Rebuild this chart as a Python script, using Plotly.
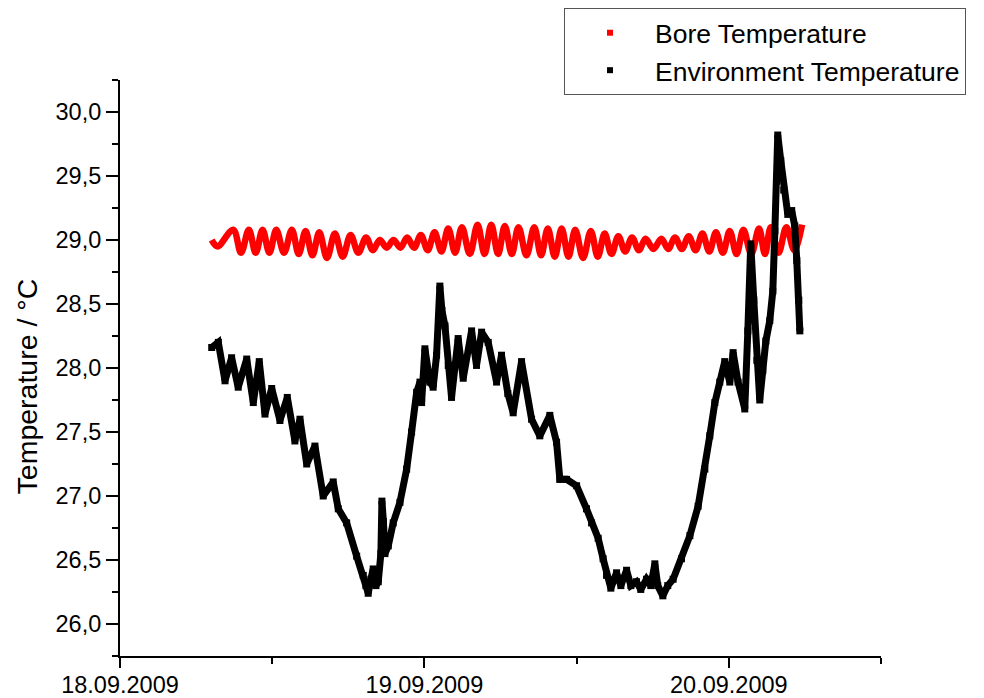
import pandas as pd
import plotly.graph_objects as go

# hours after 18.09.2009 00:00
bore_hours = [7.23, 7.69,
              8.92, 9.54, 10.16, 10.70, 11.24, 11.78, 12.32, 12.93, 13.55, 14.09,
              14.63, 15.17, 15.71, 16.32, 16.94, 17.56, 18.18, 18.79, 19.40, 19.94,
              20.48, 21.03, 21.56, 22.11, 22.64, 23.19, 23.72, 24.26, 24.80, 25.34,
              25.88, 26.42, 26.96, 27.58, 28.19, 28.74, 29.27, 29.81, 30.34, 30.89,
              31.42, 32.05, 32.66, 33.20, 33.73, 34.28, 34.82, 35.36, 35.89, 36.51,
              37.12, 37.67, 38.21, 38.75, 39.29, 39.83, 40.37, 40.91, 41.44, 42.06,
              42.68, 43.22, 43.76, 44.30, 44.84, 45.38, 45.92, 46.46, 46.99, 47.53,
              48.07, 48.61, 49.15, 49.77, 50.38, 50.85, 51.31, 51.92, 52.54, 53.16,
              53.78]
bore_temp = [29.00, 28.95,
             29.08, 28.90, 29.08, 28.90, 29.08, 28.90, 29.08, 28.90, 29.08, 28.89,
             29.07, 28.88, 29.06, 28.86, 29.05, 28.87, 29.04, 28.90, 29.02, 28.92,
             29.00, 28.94, 29.00, 28.94, 29.02, 28.94, 29.04, 28.92, 29.06, 28.91,
             29.09, 28.90, 29.10, 28.89, 29.12, 28.89, 29.12, 28.89, 29.11, 28.89,
             29.10, 28.88, 29.10, 28.88, 29.09, 28.87, 29.09, 28.87, 29.08, 28.86,
             29.07, 28.87, 29.05, 28.89, 29.03, 28.91, 29.02, 28.92, 29.01, 28.93,
             29.01, 28.93, 29.02, 28.93, 29.03, 28.92, 29.05, 28.91, 29.06, 28.90,
             29.07, 28.89, 29.08, 28.89, 29.09, 28.89, 29.10, 28.90, 29.10, 28.92,
             29.12]

env_hours = [7.23, 7.75, 8.28, 8.80, 9.32, 9.99, 10.51, 10.98, 11.43, 11.96,
             12.61, 13.19, 13.79, 14.19, 14.72, 15.37, 16.02, 16.81, 17.21, 17.87,
             18.66, 19.18, 19.39, 19.57, 19.78, 19.96, 20.18, 20.36, 20.57, 20.65,
             20.77, 20.89, 21.15, 21.54, 22.07, 22.60, 22.99, 23.39, 23.65, 23.78,
             24.04, 24.43, 24.69, 24.96, 25.22, 25.38, 25.62, 25.88, 26.14, 26.66,
             27.06, 27.72, 28.11, 28.51, 29.03, 29.69, 30.08, 30.58, 31.00, 31.66,
             32.45, 33.10, 33.89, 34.42, 34.68, 35.21, 36.00, 36.78, 37.18, 37.70,
             38.09, 38.36, 38.70, 39.15, 39.49, 39.94, 40.28, 40.72, 41.06, 41.51,
             41.85, 42.17, 42.40, 42.80, 43.19, 43.61, 44.27, 44.93, 45.58, 46.11,
             46.50, 46.90, 47.29, 47.68, 48.08, 48.34, 48.73, 49.26, 49.50, 49.73,
             49.97, 50.21, 50.44, 50.68, 50.92, 51.23, 51.47, 51.63, 51.78, 51.86,
             52.10, 52.33, 52.65, 52.96, 53.20, 53.36, 53.52, 53.60]
env_temp = [28.16, 28.20, 27.90, 28.08, 27.85, 28.07, 27.73, 28.05, 27.64, 27.84,
            27.59, 27.77, 27.43, 27.60, 27.25, 27.39, 27.00, 27.11, 26.90, 26.79,
            26.53, 26.38, 26.30, 26.24, 26.35, 26.43, 26.30, 26.33, 26.55, 26.96,
            26.80, 26.55, 26.61, 26.79, 26.95, 27.21, 27.50, 27.81, 27.89, 27.73,
            28.15, 27.89, 27.85, 28.10, 28.64, 28.45, 28.33, 28.02, 27.77, 28.23,
            27.92, 28.29, 28.02, 28.28, 28.20, 27.89, 28.10, 27.80, 27.65, 28.05,
            27.60, 27.47, 27.63, 27.42, 27.13, 27.13, 27.08, 26.90, 26.79, 26.67,
            26.51, 26.38, 26.28, 26.40, 26.30, 26.42, 26.30, 26.33, 26.27, 26.35,
            26.30, 26.47, 26.30, 26.22, 26.30, 26.35, 26.51, 26.69, 26.92, 27.21,
            27.47, 27.73, 27.89, 28.05, 27.89, 28.12, 27.89, 27.68, 28.29, 28.97,
            28.53, 28.06, 27.75, 27.98, 28.21, 28.37, 28.60, 29.07, 29.46, 29.82,
            29.62, 29.39, 29.20, 29.23, 29.11, 28.84, 28.53, 28.29]

t0 = pd.Timestamp("2009-09-18 00:00")
bore_t = t0 + pd.to_timedelta(bore_hours, unit="h")
env_t = t0 + pd.to_timedelta(env_hours, unit="h")

FONT = "Liberation Sans, Arial, sans-serif"
W, H = 976, 690  # page body has an 8 px margin

fig = go.Figure()
fig.add_trace(go.Scatter(x=bore_t, y=bore_temp, mode="lines", showlegend=False,
                         line=dict(color="#ff0000", width=6.5, shape="spline", smoothing=1.0)))
fig.add_trace(go.Scatter(x=env_t, y=env_temp, mode="lines+markers", showlegend=False,
                         line=dict(color="#000000", width=7),
                         marker=dict(symbol="square", size=7, color="#000000")))
fig.add_trace(go.Scatter(x=[None], y=[None], mode="markers", name="Bore Temperature",
                         marker=dict(symbol="square", size=6, color="#ff0000")))
fig.add_trace(go.Scatter(x=[None], y=[None], mode="markers", name="Environment Temperature",
                         marker=dict(symbol="square", size=6, color="#000000")))

fig.update_layout(
    width=W, height=H,
    margin=dict(l=112, r=103, t=72, b=42, autoexpand=False),
    paper_bgcolor="white", plot_bgcolor="white",
    font=dict(family=FONT, color="black", size=22),
    separators=",.",
    showlegend=True,
    legend=dict(xref="container", yref="container", x=556 / W, y=1.0,
                xanchor="left", yanchor="top",
                bgcolor="white", bordercolor="#555555", borderwidth=1,
                font=dict(family=FONT, size=26.5, color="black"),
                itemwidth=80, tracegroupgap=0),
    annotations=[dict(text="Temperature / °C", xref="paper", yref="paper",
                      x=-0.1222, y=0.468, xanchor="center", yanchor="middle",
                      textangle=-90, showarrow=False,
                      font=dict(family=FONT, size=28.5, color="black"))],
)
fig.update_xaxes(
    type="date", automargin=False,
    range=[pd.Timestamp("2009-09-18 00:00"), pd.Timestamp("2009-09-20 12:00")],
    dtick=86400000, tick0="2009-09-18", tickformat="%d.%m.%Y",
    ticks="outside", ticklen=10, tickwidth=2, tickcolor="black",
    ticklabelstandoff=-3,
    showline=True, linecolor="black", linewidth=2, mirror=False,
    showgrid=False, zeroline=False,
    tickfont=dict(family=FONT, size=23.5, color="black"),
    minor=dict(dtick=43200000, ticks="outside", ticklen=6, tickwidth=2, tickcolor="black", showgrid=False),
)
fig.update_yaxes(
    automargin=False,
    range=[25.75, 30.25],
    dtick=0.5, tick0=26.0, tickformat=".1f",
    ticks="outside", ticklen=12, tickwidth=2, tickcolor="black",
    showline=True, linecolor="black", linewidth=2, mirror=False,
    showgrid=False, zeroline=False,
    tickfont=dict(family=FONT, size=23.5, color="black"),
    minor=dict(dtick=0.25, ticks="outside", ticklen=6, tickwidth=2, tickcolor="black", showgrid=False),
)

fig.write_html("out.html")
